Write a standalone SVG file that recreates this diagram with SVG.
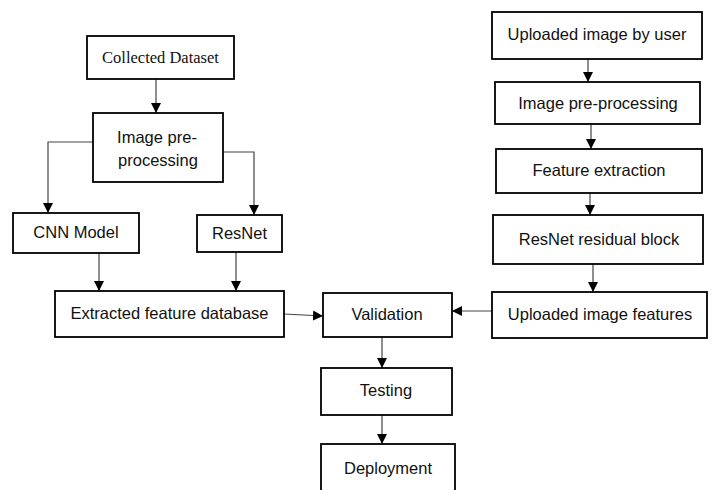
<svg xmlns="http://www.w3.org/2000/svg" width="715" height="490" viewBox="0 0 715 490">
<style>
.box{fill:#fff;stroke:#000;stroke-width:1.8}
.t{font-family:"Liberation Sans",Arial,sans-serif;font-size:16.5px;fill:#111;text-anchor:middle}
.s{font-family:"Liberation Serif","Times New Roman",serif;font-size:16.5px;fill:#111;text-anchor:middle}
.c{fill:none;stroke:#444;stroke-width:1.2;marker-end:url(#ah)}
</style>
<defs>
<marker id="ah" markerUnits="userSpaceOnUse" markerWidth="10" markerHeight="10" viewBox="0 0 10 10" refX="10" refY="5" orient="auto">
<path d="M0,0 L10,5 L0,10 z" fill="#000"/>
</marker>
</defs>
<rect width="715" height="490" fill="#fff"/>
<g id="connectors">
<path class="c" d="M156,79 V113"/>
<path class="c" d="M93,142 H48 V213"/>
<path class="c" d="M223,152 H254 V215"/>
<path class="c" d="M99,253 V291"/>
<path class="c" d="M236,252 V291"/>
<path class="c" d="M284,314 L323,316"/>
<path class="c" d="M492,311 H452"/>
<path class="c" d="M382,337 V368"/>
<path class="c" d="M382,415 V444"/>
<path class="c" d="M588,59 V82"/>
<path class="c" d="M591,124 V149"/>
<path class="c" d="M590,193 V215"/>
<path class="c" d="M593,264 V292"/>
</g>
<g id="collected-dataset"><rect class="box" x="87" y="36" width="147" height="43"/><text class="s" x="160.5" y="63">Collected Dataset</text></g>
<g id="image-preprocessing-left"><rect class="box" x="93" y="113" width="130" height="69"/><text class="t" x="157" y="143">Image pre-</text><text class="t" x="158" y="166">processing</text></g>
<g id="cnn-model"><rect class="box" x="13" y="213" width="126" height="40"/><text class="t" x="76" y="238">CNN Model</text></g>
<g id="resnet"><rect class="box" x="197" y="215" width="85" height="37"/><text class="t" x="239.5" y="239">ResNet</text></g>
<g id="extracted-feature-database"><rect class="box" x="55" y="291" width="229" height="46"/><text class="t" x="169.5" y="319">Extracted feature database</text></g>
<g id="validation"><rect class="box" x="323" y="293" width="129" height="44"/><text class="t" x="387" y="320">Validation</text></g>
<g id="testing"><rect class="box" x="321" y="368" width="131" height="47"/><text class="t" x="386" y="396">Testing</text></g>
<g id="deployment"><rect class="box" x="321" y="444" width="134" height="60"/><text class="t" x="388" y="474">Deployment</text></g>
<g id="uploaded-image-by-user"><rect class="box" x="492" y="12" width="210" height="47"/><text class="t" x="597" y="40">Uploaded image by user</text></g>
<g id="image-preprocessing-right"><rect class="box" x="495" y="82" width="205" height="42"/><text class="t" x="598" y="109">Image pre-processing</text></g>
<g id="feature-extraction"><rect class="box" x="496" y="149" width="206" height="44"/><text class="t" x="599" y="176">Feature extraction</text></g>
<g id="resnet-residual-block"><rect class="box" x="493" y="215" width="210" height="49"/><text class="t" x="599" y="245">ResNet residual block</text></g>
<g id="uploaded-image-features"><rect class="box" x="492" y="292" width="215" height="46"/><text class="t" x="600" y="320">Uploaded image features</text></g>
</svg>
